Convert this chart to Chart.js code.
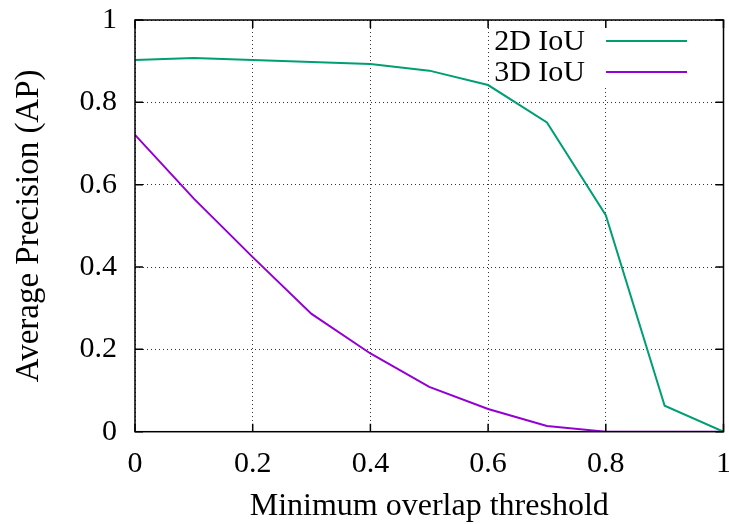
<!DOCTYPE html>
<html>
<head>
<meta charset="utf-8">
<script src="https://cdn.jsdelivr.net/npm/chart.js@4/dist/chart.umd.min.js"></script>
<style>
  html, body { margin: 0; padding: 0; background: #fff; }
  #wrap { width: 729px; height: 524px; }
</style>
</head>
<body>
<div id="wrap"><canvas id="apChart" width="729" height="524"></canvas></div>
<script>
// overlap thresholds and AP per IoU type
var thresholds = [0, 0.1, 0.2, 0.3, 0.4, 0.5, 0.6, 0.7, 0.8, 0.9, 1.0];
var ap2d = [0.903, 0.908, 0.903, 0.898, 0.893, 0.877, 0.842, 0.751, 0.526, 0.063, 0.0];
var ap3d = [0.721, 0.566, 0.424, 0.286, 0.190, 0.109, 0.055, 0.014, 0.0, 0.0, 0.0];
var seriesNames = ['2D IoU', '3D IoU'];
var seriesColors = ['#009e73', '#9400d3'];

var FONT = '"Liberation Serif", "DejaVu Serif", serif';

function points(ys) {
    return thresholds.map(function (t, i) { return { x: t, y: ys[i] }; });
}

// plain numbers: 0, 0.2, ..., 1
function tickLabel(v) {
    return String(Math.round(v * 10) / 10);
}

// gnuplot-style frame: box border, inward tics on all four sides, key in the corner
var framePlugin = {
    id: 'frame',
    beforeDatasetsDraw: function (chart) {
        // key background hides the grid, lines still pass over it
        var ctx = chart.ctx;
        ctx.save();
        ctx.fillStyle = '#fff';
        ctx.fillRect(491, 23, 206, 65);
        ctx.restore();
    },
    afterDraw: function (chart) {
        var ctx = chart.ctx;
        var a = chart.chartArea;
        var xs = chart.scales.x, ys = chart.scales.y;
        var tic = 8;

        ctx.save();
        ctx.font = '30px ' + FONT;
        ctx.textAlign = 'right';
        ctx.textBaseline = 'alphabetic';
        seriesNames.forEach(function (name, i) {
            var base = 50 + i * 31;
            ctx.fillStyle = '#000';
            ctx.fillText(name, 585, base);
            ctx.strokeStyle = seriesColors[i];
            ctx.lineWidth = 2;
            ctx.beginPath();
            ctx.moveTo(606, base - 9);
            ctx.lineTo(687, base - 9);
            ctx.stroke();
        });
        ctx.restore();

        ctx.save();
        ctx.strokeStyle = '#000';
        ctx.lineWidth = 1.5;
        ctx.beginPath();
        xs.ticks.forEach(function (t) {
            var px = xs.getPixelForValue(t.value);
            ctx.moveTo(px, a.bottom);
            ctx.lineTo(px, a.bottom - tic);
            ctx.moveTo(px, a.top);
            ctx.lineTo(px, a.top + tic);
        });
        ys.ticks.forEach(function (t) {
            var py = ys.getPixelForValue(t.value);
            ctx.moveTo(a.left, py);
            ctx.lineTo(a.left + tic, py);
            ctx.moveTo(a.right, py);
            ctx.lineTo(a.right - tic, py);
        });
        ctx.stroke();
        ctx.strokeRect(a.left, a.top, a.right - a.left, a.bottom - a.top);
        ctx.restore();
    }
};

var ctx = document.getElementById('apChart').getContext('2d');
var apChart = new Chart(ctx, {
    type: 'line',
    data: {
        datasets: [{
            label: seriesNames[0],
            data: points(ap2d),
            borderColor: seriesColors[0],
            borderWidth: 2,
            pointRadius: 0,
            fill: false
        }, {
            label: seriesNames[1],
            data: points(ap3d),
            borderColor: seriesColors[1],
            borderWidth: 2,
            pointRadius: 0,
            fill: false
        }]
    },
    options: {
        responsive: false,
        animation: false,
        layout: { padding: { top: 20, right: 5.5, left: 0, bottom: 0 } },
        elements: {
            line: { tension: 0 }
        },
        plugins: {
            legend: { display: false },
            tooltip: { enabled: false }
        },
        scales: {
            x: {
                type: 'linear',
                min: 0,
                max: 1,
                ticks: {
                    stepSize: 0.2,
                    color: '#000',
                    padding: 14,
                    font: { family: FONT, size: 30 },
                    maxRotation: 0,
                    callback: tickLabel
                },
                grid: {
                    color: '#333',
                    lineWidth: 1,
                    drawTicks: false
                },
                border: { display: false, dash: [1, 3] },
                title: {
                    display: true,
                    text: 'Minimum overlap threshold',
                    color: '#000',
                    font: { family: FONT, size: 32, lineHeight: 1 },
                    padding: { top: 0, bottom: 1 }
                },
                afterFit: function (scale) {
                    scale.height = 92.3;
                    scale.paddingLeft = 0;
                    scale.paddingRight = 0;
                }
            },
            y: {
                min: 0,
                max: 1,
                ticks: {
                    stepSize: 0.2,
                    color: '#000',
                    padding: 18,
                    font: { family: FONT, size: 30 },
                    callback: tickLabel
                },
                grid: {
                    color: '#333',
                    lineWidth: 1,
                    drawTicks: false
                },
                border: { display: false, dash: [1, 3] },
                title: {
                    display: true,
                    text: 'Average Precision (AP)',
                    color: '#000',
                    font: { family: FONT, size: 33, lineHeight: 1 },
                    padding: { top: 13, bottom: 0 }
                },
                afterFit: function (scale) {
                    scale.width = 135;
                    scale.paddingTop = 0;
                    scale.paddingBottom = 0;
                }
            }
        }
    },
    plugins: [framePlugin]
});
</script>
</body>
</html>
